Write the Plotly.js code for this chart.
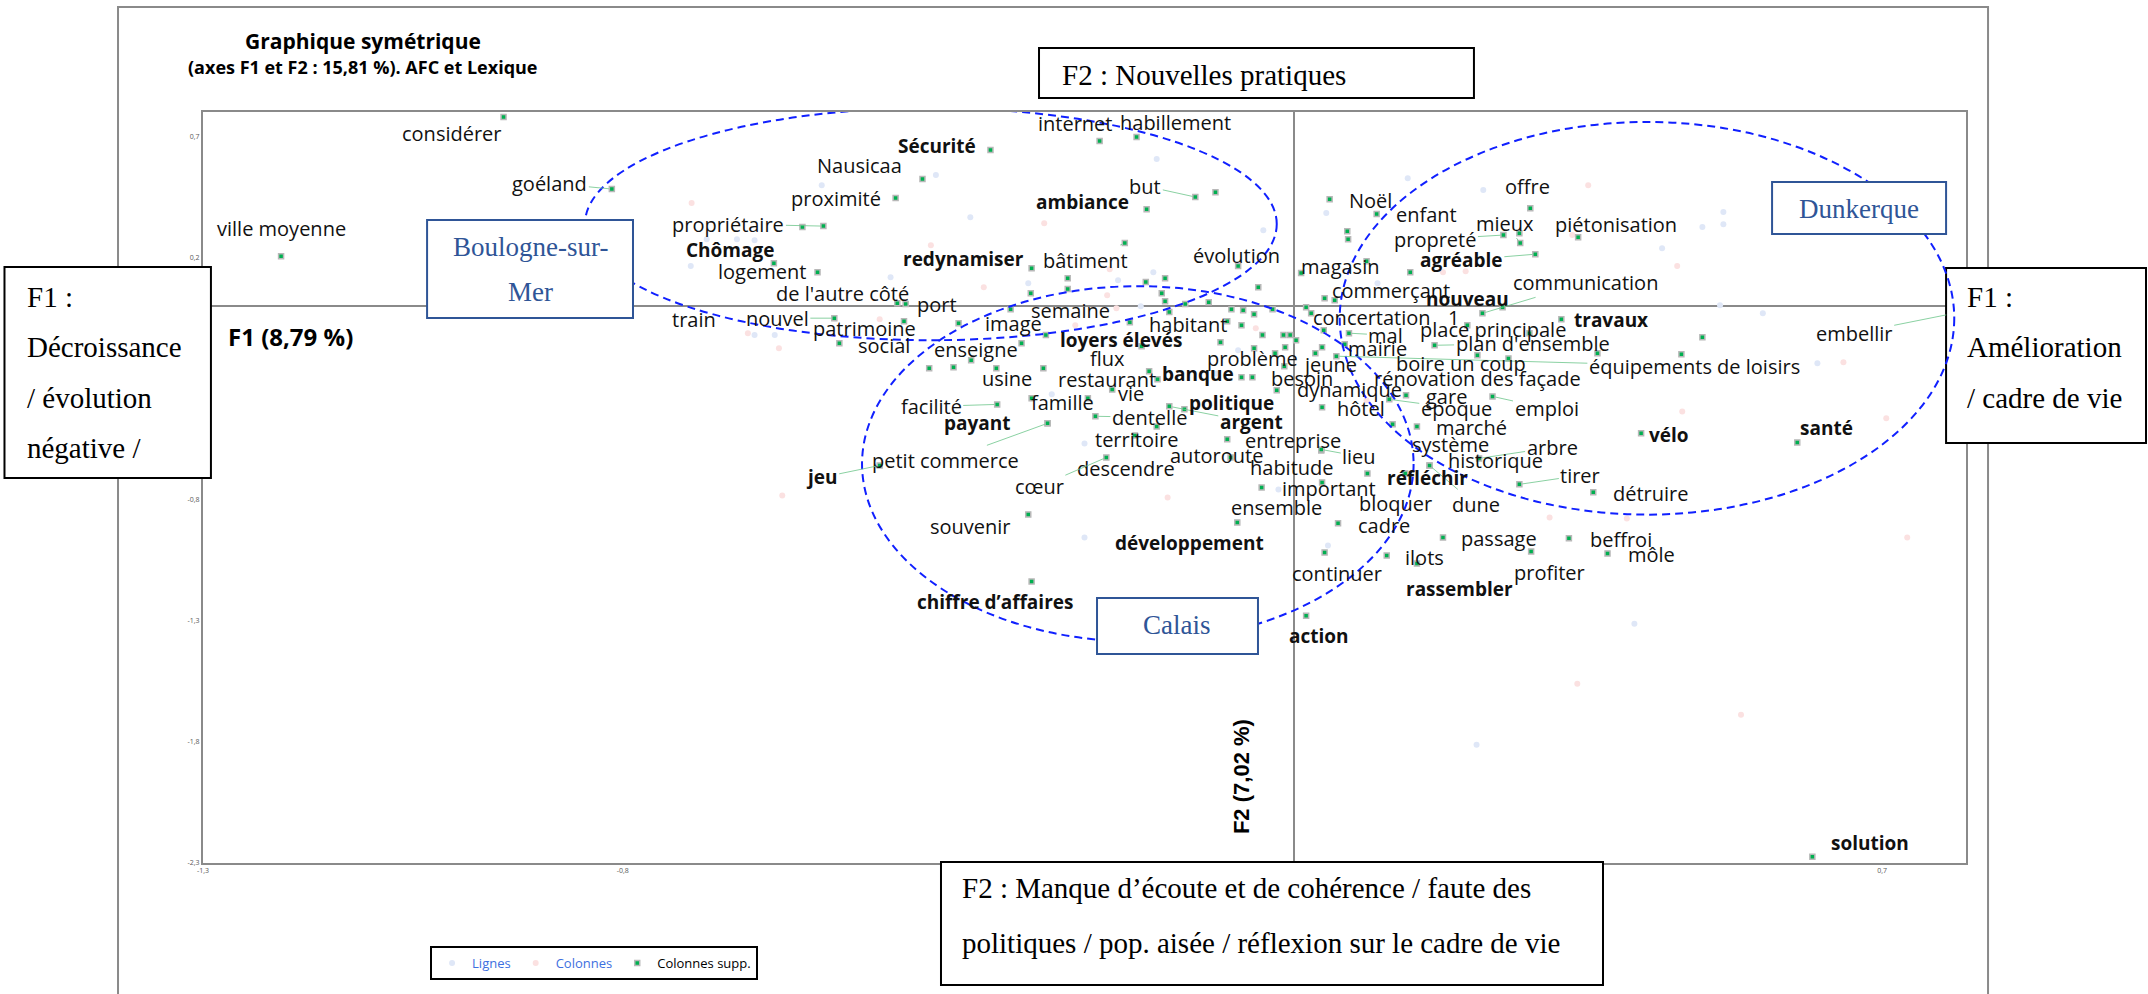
<!DOCTYPE html>
<html>
<head>
<meta charset="utf-8">
<script src="https://cdn.plot.ly/plotly-3.0.1.min.js"></script>
<style>
body{margin:0;background:#fff;}
#graph{width:2148px;height:994px;}
</style>
</head>
<body>
<div id="graph"></div>
<script>
// ---- données : colonnes supplémentaires (mots) sur F1 / F2
const words = ['considérer','goéland','ville moyenne','internet','habillement','Sécurité','Nausicaa','proximité','but','ambiance',
  'propriétaire','bâtiment','Chômage','logement','redynamiser','semaine',"de l'autre côté",'évolution','image','nouvel',
  'patrimoine','port','habitant','train','loyers élevés','social','enseigne','usine','flux','problème',
  'restaurant','banque','besoin','vie','famille','dentelle','argent','politique','facilité','payant',
  'petit commerce','territoire','descendre','cœur','entreprise','autoroute','jeu','habitude','lieu','important',
  'ensemble','développement','souvenir','chiffre d’affaires','Noël','enfant','offre','propreté','mieux','piétonisation',
  'agréable','magasin','commerçant','concertation','nouveau','communication','travaux','1','place principale','mal',
  "plan d'ensemble",'mairie','jeune','équipements de loisirs','boire un coup','rénovation des façade','dynamique','gare','époque','emploi',
  'hôtel','marché','système','vélo','santé','arbre','historique','dune','bloquer','réfléchir',
  'tirer','détruire','cadre','passage','beffroi','continuer','ilots','profiter','môle','rassembler',
  'action','solution','embellir'];
const wordF1 = [-0.942,-0.813,-1.207,-0.232,-0.188,-0.362,-0.443,-0.475,-0.118,-0.176,
  -0.561,-0.202,-0.620,-0.568,-0.313,-0.270,-0.463,-0.067,-0.338,-0.548,
  -0.465,-0.400,-0.080,-0.542,-0.182,-0.435,-0.385,-0.355,-0.173,-0.048,
  -0.163,-0.063,-0.021,-0.217,-0.313,-0.237,-0.149,-0.131,-0.354,-0.294,
  -0.294,-0.164,-0.190,-0.224,-0.080,-0.076,-0.494,0.032,0.032,0.033,
  -0.039,-0.068,-0.317,-0.313,0.042,0.098,0.281,0.249,0.269,0.338,
  0.287,0.008,0.036,0.020,0.248,0.224,0.318,0.206,0.280,0.065,
  0.167,0.060,0.025,0.050,0.218,0.255,-0.012,0.133,0.113,0.236,
  0.033,0.146,0.117,0.413,0.599,0.220,0.161,0.161,0.087,0.132,
  0.268,0.356,0.052,0.177,0.327,0.036,0.110,0.282,0.373,0.146,
  0.014,0.617,0.780];
const wordF2 = [0.779,0.482,0.205,0.680,0.697,0.643,0.523,0.445,0.449,0.399,
  0.329,0.259,0.176,0.139,0.155,0.069,0.007,0.164,-0.014,-0.051,
  -0.064,-0.072,-0.064,-0.155,-0.167,-0.258,-0.225,-0.258,-0.270,-0.175,
  -0.303,-0.295,-0.349,-0.345,-0.382,-0.456,-0.415,-0.427,-0.407,-0.485,
  -0.485,-0.498,-0.535,-0.626,-0.551,-0.626,-0.659,-0.597,-0.593,-0.729,
  -0.750,-0.894,-0.861,-1.138,0.440,0.379,0.403,0.292,0.259,0.283,
  0.213,0.135,0.031,-0.031,-0.006,-0.031,-0.055,-0.080,-0.113,-0.113,
  -0.163,-0.159,-0.196,-0.208,-0.204,-0.217,-0.250,-0.369,-0.386,-0.374,
  -0.419,-0.498,-0.489,-0.526,-0.564,-0.630,-0.659,-0.659,-0.692,-0.692,
  -0.737,-0.770,-0.898,-0.956,-0.960,-1.018,-1.031,-1.014,-1.022,-1.064,
  -1.279,-2.274,-0.035];

// colonnes supplémentaires dont l'étiquette est masquée
const extraF1 = [-0.094,-0.586,-0.270,-0.314,-0.473,-0.043,-0.177,-0.154,-0.158,-0.154,-0.130,-0.102,-0.196,-0.149,-0.075,
  -0.061,-0.048,-0.026,-0.063,-0.325,-0.296,-0.088,-0.038,-0.013,-0.005,0.002,-0.011,-0.406,-0.299,-0.050,
  -0.246,0.063,0.064,0.268,0.138,0.086,0.048,0.014,0.035,0.033,0.361,0.461,0.486,-0.023];
const extraF2 = [0.469,0.325,0.114,0.052,0.011,0.077,0.098,0.114,0.052,0.019,0.007,0.015,-0.068,-0.026,-0.014,
  -0.018,-0.035,-0.014,-0.080,-0.155,-0.121,-0.150,-0.121,-0.121,-0.121,-0.142,-0.171,-0.254,-0.258,-0.295,
  -0.382,0.308,0.275,0.300,0.139,0.184,0.023,-0.006,-0.101,-0.171,-0.196,-0.200,-0.130,-0.196];

// lignes (points actifs, très pâles)
const rowF1 = [-0.427,-0.563,-0.386,-0.164,-0.037,-0.719,-0.664,-0.643,-0.700,-0.481,-0.317,-0.210,-0.168,-0.183,-0.619,
  -0.643,-0.289,-0.067,-0.093,0.135,0.225,0.038,0.511,0.511,0.486,0.438,0.692,0.507,0.558,0.623,
  0.099,-0.250,-0.250,-0.019,0.040,0.405,0.217];
const rowF2 = [0.540,0.498,0.366,0.606,0.312,0.164,0.275,0.271,0.275,0.118,0.093,0.106,0.139,-0.002,-0.121,
  -0.121,-0.365,-0.183,-0.279,0.527,0.478,0.383,0.387,0.337,0.325,0.238,0.366,0.002,-0.031,-0.237,
  0.093,-0.568,-0.956,-0.758,-0.989,-1.312,-1.812];

// colonnes (points actifs, très pâles)
const colF1 = [-0.718,-0.298,-0.433,-0.370,-0.223,-0.261,-0.494,-0.651,-0.614,-0.220,-0.046,-0.212,0.350,0.456,0.177,
  0.204,0.331,0.654,0.462,0.705,0.730,0.337,0.532,0.206,0.304,0.396,0.086,-0.610,-0.151,0.627];
const colF2 = [0.424,0.341,0.250,0.077,0.044,-0.080,-0.055,-0.113,-0.175,0.151,-0.093,-0.010,0.498,0.164,0.139,
  0.143,0.292,-0.233,-0.436,-0.464,-0.956,-1.560,-1.688,-0.824,-0.874,-0.878,-0.390,-0.783,-0.791,0.387];

const xTicks = [-1.3,-0.8,-0.3,0.2,0.7];
const yTicks = [-2.3,-1.8,-1.3,-0.8,-0.3,0.2,0.7];

// ---- placement des étiquettes (décalage en px) et style
const labelShift = [[-52,16],[-62,-6],[0,-28],[-25,-18],[39,-14],[-53,-4],[-63,-14],[-60,0],[-50,-11],[-64,-7],
  [-95,-2],[-39,17],[-44,-13],[-56,-1],[-68,-9],[3,21],[-63,-11],[-2,-11],[3,14],[-57,0],
  [-40,7],[-22,-19],[-39,3],[-145,-24],[-21,-6],[-45,-23],[5,-11],[11,10],[-42,-13],[-2,10],
  [-51,0],[-43,-3],[25,-12],[19,4],[31,4],[54,1],[82,16],[47,-6],[-66,2],[-70,0],
  [-102,37],[-20,13],[-9,33],[-67,29],[66,1],[-14,-2],[-58,12],[-29,17],[38,7],[7,6],
  [15,20],[-48,21],[-58,12],[-37,20],[41,1],[50,1],[-3,-22],[-68,4],[-15,-20],[38,-13],
  [-74,6],[39,-7],[66,-8],[61,4],[-35,-8],[103,-31],[50,1],[-14,-8],[-36,-4],[37,2],
  [98,-2],[33,4],[15,11],[358,10],[-16,8],[-31,20],[65,23],[40,1],[67,9],[54,12],
  [39,1],[55,1],[58,20],[28,2],[29,-14],[73,-11],[66,-5],[46,39],[28,30],[22,5],
  [61,-9],[58,1],[46,2],[56,1],[52,1],[12,21],[38,2],[18,21],[44,1],[43,25],
  [13,20],[58,-14],[-95,19]];
const leader = ['goéland','but','propriétaire','bâtiment','nouvel','dentelle','argent','facilité','petit commerce','cœur','jeu',
  'lieu','propreté','mieux','agréable','communication','mal',"plan d'ensemble",'équipements de loisirs','époque','emploi',
  'arbre','dune','tirer','embellir'];
const boldWords = ['Sécurité','ambiance','Chômage','redynamiser','loyers élevés','banque','argent','politique','payant','jeu',
  'développement','chiffre d’affaires','agréable','nouveau','travaux','vélo','santé','réfléchir','rassembler','action','solution'];

// ---- traces
const traces = [
  {type:'scatter', mode:'markers', name:'<span style="color:#3d6fe0">Lignes</span>', x:rowF1, y:rowF2,
   marker:{symbol:'circle', size:6, color:'#dfe7f7'}, hoverinfo:'skip'},
  {type:'scatter', mode:'markers', name:'<span style="color:#3d6fe0">Colonnes</span>', x:colF1, y:colF2,
   marker:{symbol:'circle', size:6, color:'#fbe1e1'}, hoverinfo:'skip'},
  {type:'scatter', mode:'markers', name:'Colonnes supp.', x:wordF1.concat(extraF1), y:wordF2.concat(extraF2),
   marker:{symbol:'square', size:5, color:'#00b050', line:{color:'#b8b8b8', width:1.5}}, hoverinfo:'skip'}
];

// ---- étiquettes des mots
const annos = words.map((w, i) => {
  const b = boldWords.includes(w);
  return {
    x: wordF1[i], y: wordF2[i], xref:'x', yref:'y', text: w,
    showarrow:true, arrowhead:0, arrowwidth:0.8, standoff:3,
    arrowcolor: leader.includes(w) ? '#6cc58a' : 'rgba(0,0,0,0)',
    ax: labelShift[i][0], ay: labelShift[i][1],
    font:{family:'Open Sans', size: b ? 19 : 20, color:'#111', weight: b ? 'bold' : 'normal'}
  };
});

function txt(x, y, text, font, opts) {
  return Object.assign({xref:'paper', yref:'paper', x:x, y:y, text:text, showarrow:false,
    xanchor:'center', yanchor:'middle', font:font}, opts || {});
}
const serif = {family:'Liberation Serif', size:29, color:'#000'};
const city = {family:'Liberation Serif', size:27, color:'#2f5597'};

annos.push(
  txt(0.0908, 1.0945, 'Graphique symétrique', {family:'Open Sans', size:21, color:'#000', weight:'bold'}),
  txt(0.0908, 1.0599, '(axes F1 et F2 : 15,81 %). AFC et Lexique', {family:'Open Sans', size:18, color:'#000', weight:'bold'}),
  txt(0.0499, 0.7004, 'F1 (8,79 %)', {family:'Open Sans', size:24, color:'#000', weight:'bold'}),
  txt(0.5888, 0.1145, 'F2 (7,02 %)', {family:'Liberation Sans', size:22, color:'#000', weight:'bold'}, {textangle:-90}),
  // encadré F1 gauche
  txt(-0.101, 0.7537, 'F1 :', serif, {xanchor:'left'}),
  txt(-0.101, 0.6871, 'Décroissance', serif, {xanchor:'left'}),
  txt(-0.101, 0.6192, '/ évolution', serif, {xanchor:'left'}),
  txt(-0.101, 0.5526, 'négative /', serif, {xanchor:'left'}),
  // encadré F1 droite
  txt(0.9994, 0.7537, 'F1 :', serif, {xanchor:'left'}),
  txt(0.9994, 0.6871, 'Amélioration', serif, {xanchor:'left'}),
  txt(0.9994, 0.6192, '/ cadre de vie', serif, {xanchor:'left'}),
  // encadrés F2
  txt(0.4861, 1.0493, 'F2 : Nouvelles pratiques', serif, {xanchor:'left'}),
  txt(0.4294, -0.0333, 'F2 : Manque d’écoute et de cohérence / faute des', serif, {xanchor:'left'}),
  txt(0.4294, -0.1065, 'politiques / pop. aisée / réflexion sur le cadre de vie', serif, {xanchor:'left'}),
  // villes
  txt(0.1855, 0.8202, 'Boulogne-sur-', city),
  txt(0.1855, 0.7603, 'Mer', city),
  txt(0.9393, 0.8708, 'Dunkerque', city),
  txt(0.5525, 0.3169, 'Calais', city)
);

function box(x0, y0, x1, y1, color, layer) {
  return {type:'rect', xref:'paper', yref:'paper', x0:x0, y0:y0, x1:x1, y1:y1,
    line:{color:color, width:2}, fillcolor:'#fff', layer: layer || 'above'};
}
function ring(x0, y0, x1, y1) {
  return {type:'circle', xref:'x', yref:'y', x0:x0, y0:y0, x1:x1, y1:y1,
    line:{color:'#1020ff', width:2, dash:'8px,5px'}, layer:'above'};
}

const shapes = [
  {type:'rect', xref:'paper', yref:'paper', x0:-0.0482, y0:-0.1824, x1:1.0125, y1:1.1398,
   line:{color:'#8a8a8a', width:2}, layer:'below'},
  box(0.9887, 0.5593, 1.1021, 0.7923, '#000'),
  ring(-0.845, -0.142, -0.021, 0.817),
  ring(-0.515, -1.386, 0.142, 0.081),
  ring(0.054, -0.862, 0.786, 0.759),
  box(0.1271, 0.7257, 0.2439, 0.8562, '#2f5597'),
  box(0.8900, 0.8375, 0.9887, 0.9068, '#2f5597'),
  box(0.5071, 0.2783, 0.5984, 0.3529, '#2f5597'),
  box(-0.1126, 0.5127, 0.0045, 0.7936, '#000'),
  box(0.4742, 1.0186, 0.7209, 1.0852, '#000'),
  box(0.4186, -0.1624, 0.7941, 0.0013, '#000')
];

const tickLabel = v => String(v).replace('.', ',');
const axisBase = {showgrid:false, showline:true, mirror:true, linecolor:'#8a8a8a', linewidth:2,
  zeroline:true, zerolinecolor:'#8a8a8a', zerolinewidth:2, ticks:'',
  tickfont:{family:'Open Sans', size:7, color:'#595959'}, fixedrange:true};

const layout = {
  width:2148, height:994,
  margin:{l:203, r:182, t:112, b:131, pad:0},
  paper_bgcolor:'#fff', plot_bgcolor:'#fff',
  xaxis:Object.assign({range:[-1.3, 0.8], tickvals:xTicks, ticktext:xTicks.map(tickLabel)}, axisBase),
  yaxis:Object.assign({range:[-2.3, 0.8], tickvals:yTicks, ticktext:yTicks.map(tickLabel)}, axisBase),
  showlegend:true,
  legend:{orientation:'h', x:0.1288, y:-0.1105, xanchor:'left', yanchor:'top',
    bgcolor:'#fff', bordercolor:'#000', borderwidth:2, itemwidth:30,
    font:{family:'Open Sans', size:13, color:'#000'}},
  annotations:annos,
  shapes:shapes
};

Plotly.newPlot('graph', traces, layout, {displayModeBar:false, staticPlot:true});
</script>
</body>
</html>
